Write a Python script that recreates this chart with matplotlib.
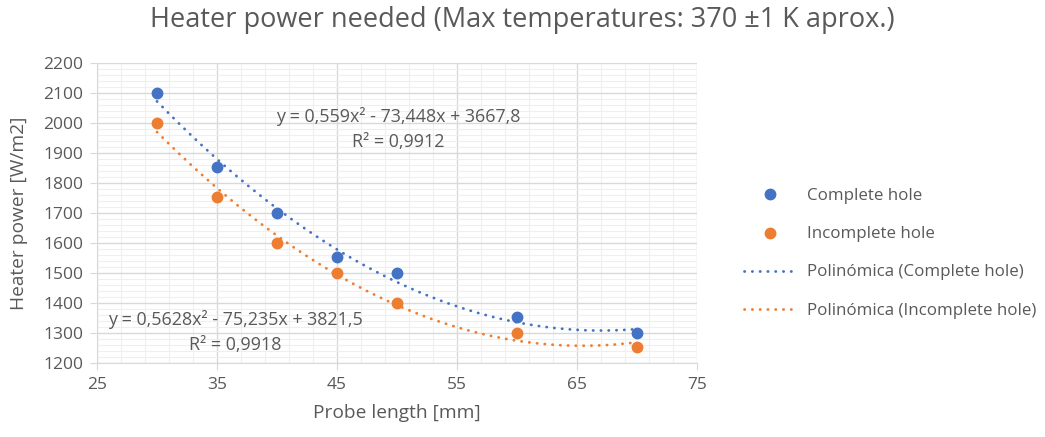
import numpy as np
import matplotlib
matplotlib.use('Agg')
import matplotlib.pyplot as plt
from matplotlib.ticker import MultipleLocator
from matplotlib.lines import Line2D

# Data ########################################################################
probe_len = [30, 35, 40, 45, 50, 60, 70]
complete = [2100, 1855, 1700, 1555, 1500, 1355, 1300]
incomplete = [2000, 1755, 1600, 1500, 1400, 1300, 1255]
eq_complete = 'y = 0,559x² - 73,448x + 3667,8\nR² = 0,9912'
eq_incomplete = 'y = 0,5628x² - 75,235x + 3821,5\nR² = 0,9918'

# Style #######################################################################
BLUE = '#4472C4'
ORANGE = '#ED7D31'
GREY = '#595959'
DOTS = (0, (0.1, 2.7))
plt.rcParams['font.family'] = ['Open Sans', 'DejaVu Sans']

fig = plt.figure(figsize=(10.45, 4.37), dpi=100)
ax = fig.add_axes([0.0928, 0.169, 0.5742, 0.687])

# Trendlines (2nd order fit) ##################################################
xs = np.linspace(min(probe_len), max(probe_len), 300)
for vals, col in ((complete, BLUE), (incomplete, ORANGE)):
    coef = np.polyfit(probe_len, vals, 2)
    ax.plot(xs, np.polyval(coef, xs), color=col, lw=2.0,
            linestyle=DOTS, dash_capstyle='round', zorder=2)

ax.plot(probe_len, complete, 'o', color=BLUE, ms=7.5, zorder=3)
ax.plot(probe_len, incomplete, 'o', color=ORANGE, ms=7.5, zorder=3)

# Axes ########################################################################
ax.set_xlim(25, 75)
ax.set_ylim(1200, 2200)
ax.xaxis.set_major_locator(MultipleLocator(10, offset=5))
ax.xaxis.set_minor_locator(MultipleLocator(2, offset=1))
ax.yaxis.set_major_locator(MultipleLocator(100))
ax.yaxis.set_minor_locator(MultipleLocator(20))
ax.grid(which='major', color='#d9d9d9', lw=1)
ax.grid(which='minor', color='#efefef', lw=0.8)
ax.set_axisbelow(True)
for s in ('top', 'right'):
    ax.spines[s].set_visible(False)
for s in ('left', 'bottom'):
    ax.spines[s].set_color('#d9d9d9')
ax.tick_params(which='major', color='#d9d9d9', length=5, labelsize=12.5,
               labelcolor=GREY, pad=5)
ax.tick_params(which='minor', length=0)
ax.set_xlabel('Probe length [mm]', fontsize=13.8, color=GREY)
ax.set_ylabel('Heater power [W/m2]', fontsize=13.8, color=GREY)
ax.xaxis.set_label_coords(0.5, -0.137)
ax.yaxis.set_label_coords(-0.115, 0.5)

fig.text(0.5, 0.954, 'Heater power needed (Max temperatures: 370 ±1 K aprox.)',
         ha='center', va='center', fontsize=19.5, color=GREY)

# Equations ###################################################################
ax.text(50.1, 1980, eq_complete, ha='center', va='center', fontsize=12.9,
        color=GREY, linespacing=1.5, multialignment='center')
ax.text(36.5, 1305, eq_incomplete, ha='center', va='center', fontsize=12.9,
        color=GREY, linespacing=1.5, multialignment='center')

# Legend ######################################################################
handles = [
    Line2D([], [], marker='o', ls='none', color=BLUE, ms=7.5),
    Line2D([], [], marker='o', ls='none', color=ORANGE, ms=7.5),
    Line2D([], [], color=BLUE, lw=2.0, ls=DOTS, dash_capstyle='round'),
    Line2D([], [], color=ORANGE, lw=2.0, ls=DOTS, dash_capstyle='round'),
]
labels = ['Complete hole', 'Incomplete hole',
          'Polinómica (Complete hole)', 'Polinómica (Incomplete hole)']
leg = fig.legend(handles, labels, loc='center left', bbox_to_anchor=(0.697, 0.42),
                 frameon=False, fontsize=12.2, labelspacing=1.3, handlelength=3.1,
                 handletextpad=0.62)
for t in leg.get_texts():
    t.set_color(GREY)

plt.savefig('out.png', dpi=100)
plt.close()
